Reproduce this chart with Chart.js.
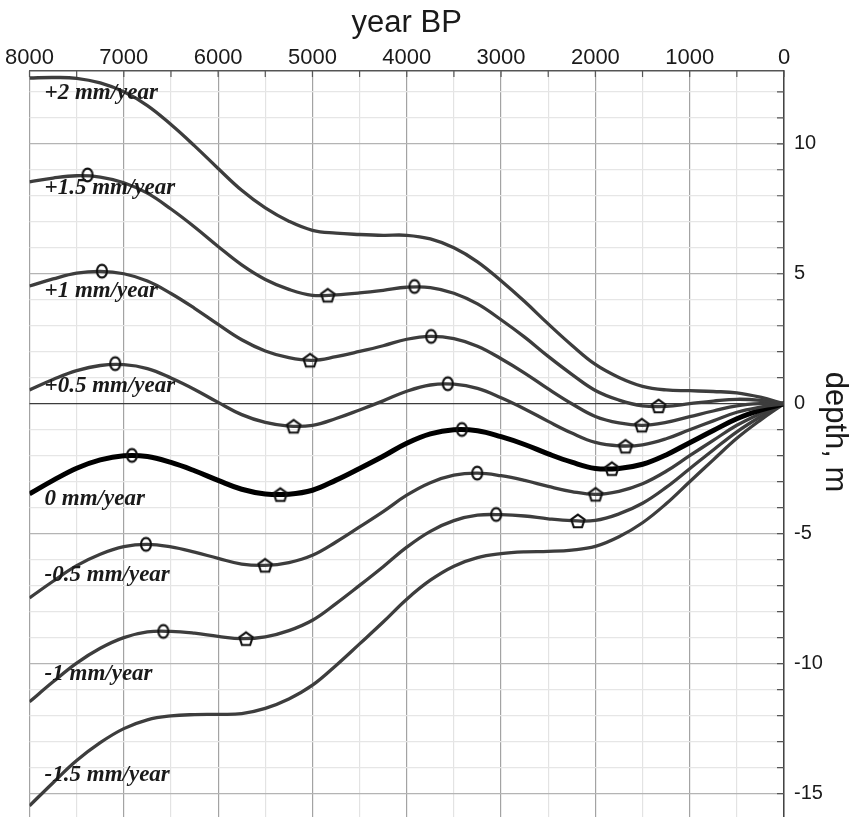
<!DOCTYPE html>
<html>
<head>
<meta charset="utf-8">
<script src="https://cdn.jsdelivr.net/npm/chart.js@4.4.1/dist/chart.umd.min.js"></script>
<style>
  html, body { margin: 0; padding: 0; background: #fff; }
  #wrap { width: 851px; height: 817px; }
</style>
</head>
<body>
<div id="wrap"><canvas id="chart" width="851" height="817"></canvas></div>
<script>
// years before present, every 250 years
const years = [0, 250, 500, 750, 1000, 1250, 1500, 1750, 2000, 2250, 2500, 2750, 3000, 3250, 3500, 3750,
  4000, 4250, 4500, 4750, 5000, 5250, 5500, 5750, 6000, 6250, 6500, 6750, 7000, 7250, 7500, 7750, 8000];

// depth (m) for each subsidence / uplift rate
const depthPlus2 = [0, 0.25, 0.42, 0.47, 0.5, 0.53, 0.67, 1.01, 1.51, 2.25, 3.07, 3.93, 4.73, 5.46, 6.0, 6.34,
  6.48, 6.48, 6.51, 6.56, 6.67, 7.02, 7.53, 8.21, 9.05, 9.92, 10.74, 11.47, 12.0, 12.34, 12.52, 12.55, 12.53];
const depthPlus15 = [0, 0.13, 0.17, 0.10, 0.0, -0.10, -0.08, 0.14, 0.51, 1.13, 1.82, 2.56, 3.23, 3.84, 4.25, 4.47,
  4.48, 4.36, 4.26, 4.19, 4.17, 4.40, 4.78, 5.34, 6.05, 6.80, 7.49, 8.10, 8.50, 8.72, 8.77, 8.68, 8.53];
const depthPlus1 = [0, 0.0, -0.08, -0.28, -0.5, -0.72, -0.83, -0.74, -0.49, 0.0, 0.57, 1.18, 1.73, 2.21, 2.5, 2.59,
  2.48, 2.23, 2.01, 1.81, 1.67, 1.77, 2.03, 2.46, 3.05, 3.67, 4.24, 4.72, 5.0, 5.09, 5.02, 4.80, 4.53];
const depthPlus05 = [0, -0.13, -0.33, -0.66, -1.0, -1.35, -1.58, -1.62, -1.49, -1.13, -0.68, -0.20, 0.23, 0.59, 0.75, 0.72,
  0.48, 0.11, -0.24, -0.57, -0.83, -0.86, -0.72, -0.42, 0.05, 0.55, 0.99, 1.35, 1.5, 1.47, 1.27, 0.93, 0.53];
const depthZero = [0, -0.25, -0.58, -1.03, -1.5, -1.97, -2.33, -2.49, -2.49, -2.25, -1.93, -1.57, -1.27, -1.04, -1.0, -1.16,
  -1.52, -2.02, -2.49, -2.94, -3.33, -3.48, -3.47, -3.29, -2.95, -2.58, -2.26, -2.03, -2.0, -2.16, -2.48, -2.95, -3.47];
const depthMinus05 = [0, -0.38, -0.83, -1.41, -2.0, -2.60, -3.08, -3.37, -3.49, -3.38, -3.18, -2.95, -2.77, -2.67, -2.75, -3.04,
  -3.52, -4.15, -4.74, -5.32, -5.83, -6.11, -6.22, -6.17, -5.95, -5.71, -5.51, -5.41, -5.5, -5.79, -6.23, -6.83, -7.47];
const depthMinus1 = [0, -0.5, -1.08, -1.78, -2.5, -3.22, -3.83, -4.24, -4.49, -4.50, -4.43, -4.32, -4.27, -4.29, -4.5, -4.91,
  -5.52, -6.27, -6.99, -7.69, -8.33, -8.73, -8.97, -9.04, -8.95, -8.83, -8.76, -8.78, -9.0, -9.41, -9.98, -10.70, -11.47];
const depthMinus15 = [0, -0.63, -1.33, -2.16, -3.0, -3.85, -4.58, -5.12, -5.49, -5.63, -5.68, -5.70, -5.77, -5.92, -6.25, -6.79,
  -7.52, -8.40, -9.24, -10.07, -10.83, -11.36, -11.72, -11.92, -11.95, -11.96, -12.01, -12.16, -12.5, -13.04, -13.73, -14.58, -15.47];

const rateLabels = ['+2 mm/year', '+1.5 mm/year', '+1 mm/year', '+0.5 mm/year', '0 mm/year', '-0.5 mm/year', '-1 mm/year', '-1.5 mm/year'];
const series = [depthPlus2, depthPlus15, depthPlus1, depthPlus05, depthZero, depthMinus05, depthMinus1, depthMinus15];

// local maxima (circles) and minima (pentagons)
const peakYears = [7385, 3918, 7232, 3741, 7091, 3565, 6914, 3416, 6765, 3253, 6581, 3052];
const peakDepths = [8.8, 4.51, 5.10, 2.59, 1.54, 0.77, -1.99, -0.99, -5.41, -2.67, -8.76, -4.26];
const troughYears = [4838, 1330, 5025, 1507, 5199, 1680, 5340, 1825, 5502, 1998, 5704, 2186];
const troughDepths = [4.17, -0.09, 1.67, -0.83, -0.87, -1.64, -3.5, -2.5, -6.22, -3.49, -9.04, -4.51];

// axis ticks
const yearTicks = [0, 500, 1000, 1500, 2000, 2500, 3000, 3500, 4000, 4500, 5000, 5500, 6000, 6500, 7000, 7500, 8000];
const depthTicks = [-15, -14, -13, -12, -11, -10, -9, -8, -7, -6, -5, -4, -3, -2, -1, 0, 1, 2, 3, 4, 5, 6, 7, 8, 9, 10, 11, 12];

// where the rate labels sit (year, depth)
const labelYear = 7840;
const labelDepths = [11.97, 8.28, 4.32, 0.67, -3.68, -6.6, -10.4, -14.28];

function makeMarker(kind) {
  const c = document.createElement('canvas');
  c.width = 20; c.height = 20;
  const g = c.getContext('2d');
  g.strokeStyle = '#111';
  g.lineWidth = 2.1;
  g.beginPath();
  if (kind === 'circle') {
    g.ellipse(10, 10, 5, 6.4, 0, 0, Math.PI * 2);
  } else {
    for (let i = 0; i < 5; i++) {
      const a = -Math.PI / 2 + i * 2 * Math.PI / 5;
      const px = 10 + 7 * Math.cos(a), py = 10.6 + 7 * Math.sin(a);
      if (i === 0) g.moveTo(px, py); else g.lineTo(px, py);
    }
    g.closePath();
  }
  g.stroke();
  return c;
}

const datasets = series.map((vals, i) => ({
  label: rateLabels[i],
  data: years.map((t, k) => ({ x: t, y: vals[k] })),
  borderColor: i === 4 ? '#000' : '#3d3d3d',
  borderWidth: i === 4 ? 5 : 3.3,
  pointRadius: 0,
  tension: 0.4,
  fill: false,
  order: 1
}));

datasets.push({
  type: 'scatter',
  label: 'max',
  data: peakYears.map((t, k) => ({ x: t, y: peakDepths[k] })),
  pointStyle: makeMarker('circle'),
  pointRadius: 8,
  showLine: false,
  order: 0
});
datasets.push({
  type: 'scatter',
  label: 'min',
  data: troughYears.map((t, k) => ({ x: t, y: troughDepths[k] })),
  pointStyle: makeMarker('pentagon'),
  pointRadius: 8,
  showLine: false,
  order: 0
});

const innerTicks = {
  id: 'innerTicks',
  beforeDatasetsDraw(chart) {
    const { ctx, chartArea: a, scales: { x, y } } = chart;
    ctx.save();
    ctx.strokeStyle = '#555';
    ctx.lineWidth = 1.2;
    ctx.beginPath();
    x.ticks.forEach(t => {
      const px = x.getPixelForValue(t.value);
      ctx.moveTo(px, a.top);
      ctx.lineTo(px, a.top + 6);
    });
    y.ticks.forEach(t => {
      const py = y.getPixelForValue(t.value);
      ctx.moveTo(a.right - 7, py);
      ctx.lineTo(a.right, py);
    });
    ctx.stroke();
    ctx.restore();
  }
};

const textColor = '#1a1a1a';

const rateText = {
  id: 'rateText',
  afterDatasetsDraw(chart) {
    const { ctx, chartArea: a, scales: { x, y } } = chart;
    ctx.save();
    ctx.font = 'italic bold 23px "Liberation Serif", serif';
    ctx.fillStyle = textColor;
    ctx.textAlign = 'left';
    ctx.textBaseline = 'middle';
    rateLabels.forEach((txt, i) => {
      ctx.fillText(txt, x.getPixelForValue(labelYear), y.getPixelForValue(labelDepths[i]));
    });
    // right axis title
    ctx.font = '31px "Liberation Sans", sans-serif';
    ctx.textAlign = 'center';
    ctx.translate(a.right + 51, 432);
    ctx.rotate(Math.PI / 2);
    ctx.fillText('depth, m', 0, 0);
    ctx.restore();
  }
};

new Chart(document.getElementById('chart'), {
  type: 'line',
  data: { datasets: datasets },
  options: {
    responsive: false,
    animation: false,
    layout: { autoPadding: false, padding: { left: 29.5, right: 0, top: 0, bottom: 0 } },
    plugins: { legend: { display: false }, tooltip: { enabled: false } },
    scales: {
      x: {
        type: 'linear',
        position: 'top',
        reverse: true,
        min: 0,
        max: 8000,
        afterBuildTicks: s => { s.ticks = yearTicks.map(v => ({ value: v })); },
        afterFit: s => { s.height = 71; },
        ticks: {
          autoSkip: false,
          maxRotation: 0,
          padding: 0,
          color: textColor,
          font: { family: 'Liberation Sans', size: 22, lineHeight: 1.2 },
          callback: v => v % 1000 === 0 ? String(v) : ''
        },
        grid: {
          drawTicks: false,
          color: c => (c.tick && c.tick.value % 1000 === 0) ? '#a3a3a3' : '#e3e3e3',
          lineWidth: 1.2
        },
        border: { display: true, color: '#555', width: 1.5 },
        title: {
          display: true,
          text: 'year BP',
          color: textColor,
          font: { family: 'Liberation Sans', size: 31, lineHeight: 1 },
          padding: { top: 8, bottom: 0 }
        }
      },
      y: {
        position: 'right',
        min: -15.9,
        max: 12.8,
        afterBuildTicks: s => { s.ticks = depthTicks.map(v => ({ value: v })); },
        afterFit: s => { s.width = 67; s.paddingTop = 0; s.paddingBottom = 0; },
        ticks: {
          autoSkip: false,
          padding: 10,
          color: textColor,
          font: { family: 'Liberation Sans', size: 20 },
          callback: v => v % 5 === 0 ? String(v) : ''
        },
        grid: {
          drawTicks: false,
          color: c => {
            const v = c.tick ? c.tick.value : 1;
            if (v === 0) return '#3c3c3c';
            return v % 5 === 0 ? '#b4b4b4' : '#e6e6e6';
          },
          lineWidth: 1.2
        },
        border: { display: true, color: '#444', width: 1.5 },
        title: { display: false }
      }
    }
  },
  plugins: [innerTicks, rateText]
});
</script>
</body>
</html>
